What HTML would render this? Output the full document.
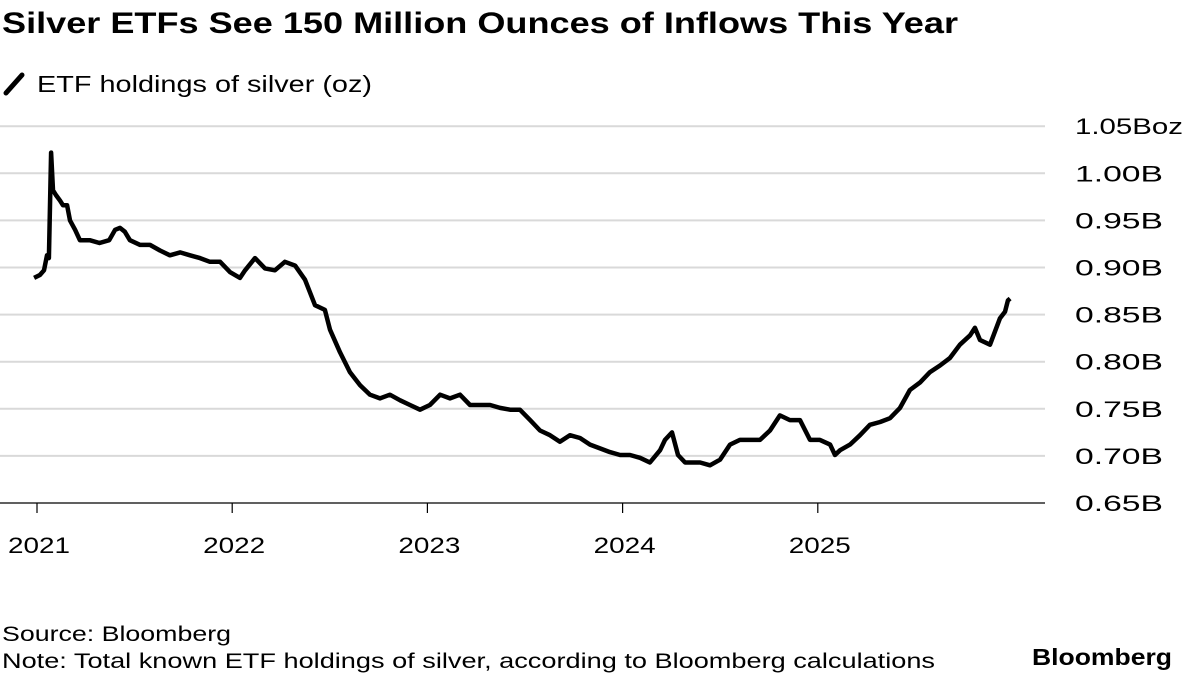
<!DOCTYPE html>
<html><head><meta charset="utf-8">
<style>
body{margin:0;background:#fff;font-family:"Liberation Sans",Arial,sans-serif;}
#wrap{position:relative;width:1184px;height:676px;overflow:hidden;}
</style></head>
<body><div id="wrap">
<svg id="chart" width="1184" height="676">
<text x="2" y="33" font-size="30" font-weight="bold" fill="#000" textLength="956" lengthAdjust="spacingAndGlyphs">Silver ETFs See 150 Million Ounces of Inflows This Year</text>
<g>
<line x1="6" y1="93" x2="22" y2="75" stroke="#000" stroke-width="5" stroke-linecap="round"/>
<text x="37" y="92" font-size="23" fill="#000" textLength="335" lengthAdjust="spacingAndGlyphs">ETF holdings of silver (oz)</text>
</g>
<g id="grid"></g><g id="xaxis"></g>
<path id="line" fill="none" stroke="#000" stroke-width="4.5" stroke-linejoin="round"/>
<text x="2" y="641" font-size="21" fill="#000" textLength="229" lengthAdjust="spacingAndGlyphs">Source: Bloomberg</text>
<text x="2" y="668" font-size="21" fill="#000" textLength="933" lengthAdjust="spacingAndGlyphs">Note: Total known ETF holdings of silver, according to Bloomberg calculations</text>
<text x="1032" y="665" font-size="23" font-weight="bold" fill="#000" textLength="140" lengthAdjust="spacingAndGlyphs">Bloomberg</text>
</svg></div>
<script>
const yTicks=[0.65,0.70,0.75,0.80,0.85,0.90,0.95,1.00,1.05];
const yTickLabels=["0.65B","0.70B","0.75B","0.80B","0.85B","0.90B","0.95B","1.00B","1.05Boz"];
const xTicks=[2021,2022,2023,2024,2025];
const dates=[2020.985,2021.015,2021.036,2021.051,2021.061,2021.072,2021.082,2021.097,2021.118,2021.133,2021.154,2021.169,2021.195,2021.22,2021.27,2021.32,2021.37,2021.40,2021.425,2021.45,2021.476,2021.528,2021.579,2021.630,2021.681,2021.733,2021.784,2021.835,2021.886,2021.938,2021.989,2022.040,2022.066,2022.117,2022.168,2022.219,2022.270,2022.322,2022.373,2022.424,2022.475,2022.501,2022.552,2022.603,2022.655,2022.706,2022.757,2022.808,2022.860,2022.911,2022.962,2023.013,2023.065,2023.116,2023.167,2023.218,2023.269,2023.321,2023.372,2023.423,2023.474,2023.526,2023.577,2023.628,2023.679,2023.730,2023.782,2023.833,2023.884,2023.935,2023.987,2024.038,2024.089,2024.140,2024.192,2024.217,2024.253,2024.284,2024.320,2024.345,2024.397,2024.448,2024.499,2024.550,2024.601,2024.653,2024.704,2024.755,2024.806,2024.857,2024.909,2024.960,2025.011,2025.063,2025.088,2025.114,2025.165,2025.216,2025.267,2025.319,2025.370,2025.421,2025.472,2025.524,2025.575,2025.626,2025.677,2025.728,2025.780,2025.805,2025.831,2025.882,2025.933,2025.959,2025.974,2025.985];
const values=[0.889,0.892,0.897,0.913,0.910,1.022,0.982,0.977,0.971,0.966,0.966,0.950,0.940,0.929,0.929,0.926,0.929,0.940,0.942,0.938,0.929,0.924,0.924,0.918,0.913,0.916,0.913,0.910,0.906,0.906,0.895,0.889,0.897,0.910,0.899,0.897,0.906,0.902,0.887,0.860,0.855,0.834,0.810,0.789,0.775,0.765,0.761,0.765,0.759,0.754,0.749,0.754,0.765,0.761,0.765,0.754,0.754,0.754,0.751,0.749,0.749,0.738,0.727,0.722,0.715,0.722,0.719,0.712,0.708,0.704,0.701,0.701,0.698,0.693,0.706,0.717,0.725,0.701,0.693,0.693,0.693,0.690,0.696,0.712,0.717,0.717,0.717,0.727,0.743,0.738,0.738,0.717,0.717,0.712,0.701,0.706,0.712,0.722,0.733,0.736,0.740,0.751,0.770,0.778,0.789,0.796,0.804,0.818,0.828,0.836,0.823,0.818,0.846,0.853,0.865,0.867];
const X=y=>37+(y-2021)*195.2;
const Y=v=>503-(v-0.65)/0.05*47.1;
const NS="http://www.w3.org/2000/svg";
const grid=document.getElementById('grid'),xa=document.getElementById('xaxis');
yTicks.forEach((t,i)=>{
 const l=document.createElementNS(NS,'line');
 l.setAttribute('x1',0);l.setAttribute('x2',1045);l.setAttribute('y1',Y(t));l.setAttribute('y2',Y(t));
 l.setAttribute('stroke',i==0?'#000':'#d9d9d9');l.setAttribute('stroke-width',i==0?1.2:2);
 
 
 grid.appendChild(l);
 const tx=document.createElementNS(NS,'text');
 tx.setAttribute('x',1075);tx.setAttribute('y',Y(t)+8);tx.setAttribute('font-size','22');
 tx.setAttribute('textLength',i==yTicks.length-1?108:88);tx.setAttribute('lengthAdjust','spacingAndGlyphs');
 tx.textContent=yTickLabels[i];
 
 
 grid.appendChild(tx);
});
xTicks.forEach(t=>{
 const l=document.createElementNS(NS,'line');
 l.setAttribute('x1',X(t));l.setAttribute('x2',X(t));l.setAttribute('y1',503);l.setAttribute('y2',513);
 l.setAttribute('stroke','#000');l.setAttribute('stroke-width',1.2);
 
 
 xa.appendChild(l);
 const tx=document.createElementNS(NS,'text');
 tx.setAttribute('x',X(t)-29);tx.setAttribute('y',553);tx.setAttribute('font-size','22');
 tx.setAttribute('textLength',62);tx.setAttribute('lengthAdjust','spacingAndGlyphs');
 tx.textContent=t;
 
 
 xa.appendChild(tx);
});
document.getElementById('line').setAttribute('d',dates.map((d,i)=>(i?'L':'M')+X(d).toFixed(1)+','+Y(values[i]).toFixed(1)).join(''));
</script>
</body></html>
